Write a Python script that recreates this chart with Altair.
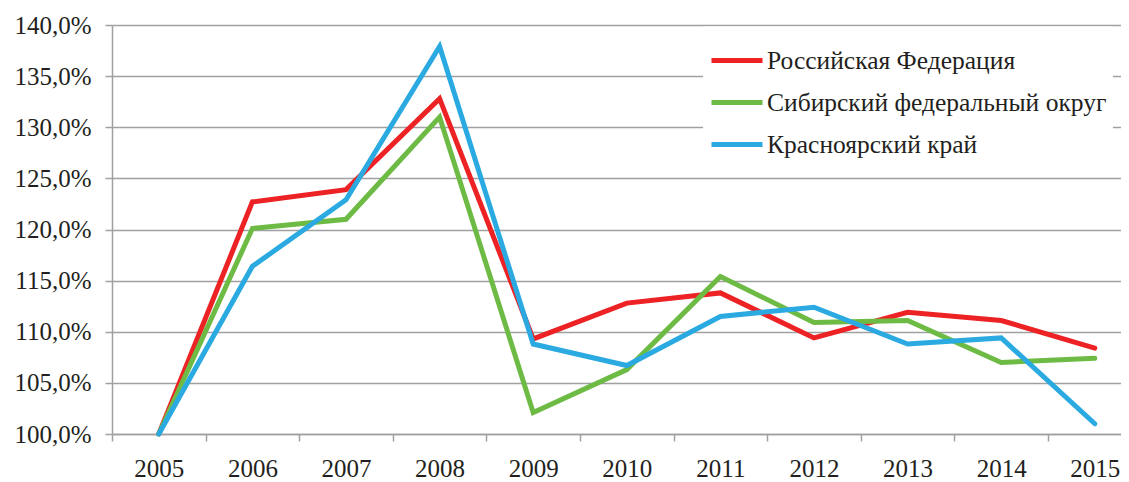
import altair as alt
import pandas as pd

years = list(range(2005, 2016))
series_names = ["Российская Федерация", "Сибирский федеральный округ", "Красноярский край"]
rf = [100.0, 122.7, 123.9, 132.8, 109.3, 112.8, 113.8, 109.4, 111.9, 111.1, 108.4]
sfo = [100.0, 120.1, 121.0, 131.0, 102.1, 106.3, 115.4, 110.9, 111.1, 107.0, 107.4]
kk = [100.0, 116.4, 122.9, 137.9, 108.8, 106.7, 111.5, 112.4, 108.8, 109.4, 101.0]
colors = ["#ED2224", "#6DBB45", "#2AAAE1"]
y_ticks = list(range(100, 141, 5))

rows = []
for name, vals in zip(series_names, [rf, sfo, kk]):
    for yr, v in zip(years, vals):
        rows.append({"year": yr, "value": v, "series": name})
df = pd.DataFrame(rows)

W = 1009
band = 93.6
TXT = "#231F20"
GRID = "#A0A0A0"
FONT = "Liberation Serif"

x_enc = alt.X(
    "year:Q",
    scale=alt.Scale(domain=[2004.5, 2004.5 + W / band], nice=False, zero=False),
    axis=alt.Axis(
        values=years, format="d", tickOffset=-band / 2, labelOffset=band / 2,
        grid=False, tickSize=7, labelPadding=15, title=None,
        labelFont=FONT, labelFontSize=25, labelColor=TXT,
        domainColor=GRID, domainWidth=1.5, tickColor=GRID, tickWidth=1.5,
    ),
)
y_enc = alt.Y(
    "value:Q",
    scale=alt.Scale(domain=[100, 140], nice=False, zero=False),
    axis=alt.Axis(
        values=y_ticks, labelExpr="replace(format(datum.value, '.1f'), '.', ',') + '%'",
        tickSize=7, labelPadding=14, title=None, grid=True,
        gridColor=GRID, gridWidth=1.5, domainColor=GRID, domainWidth=1.5,
        tickColor=GRID, tickWidth=1.5,
        labelFont=FONT, labelFontSize=25, labelColor=TXT,
    ),
)
color_enc = alt.Color(
    "series:N",
    scale=alt.Scale(domain=series_names, range=colors),
    legend=alt.Legend(
        orient="none", legendX=591, legendY=1.5, title=None,
        symbolType="stroke", symbolSize=2601, symbolStrokeWidth=5,
        labelFont=FONT, labelFontSize=25.5, labelColor=TXT,
        labelOffset=2, rowPadding=-8, padding=6, fillColor="white",
        labelLimit=0,
    ),
)

layers = []
for name in series_names:
    layers.append(
        alt.Chart(df)
        .transform_filter(alt.datum.series == name)
        .mark_line(strokeWidth=5, strokeJoin="miter", strokeCap="round")
        .encode(x=x_enc, y=y_enc, color=color_enc)
    )

chart = (
    alt.layer(*layers)
    .properties(width=W, height=409, padding={"left": 5, "top": 5, "right": 0, "bottom": 0})
    .configure(font=FONT)
    .configure_view(stroke=None)
)

chart.save("out.html", embed_options={"renderer": "svg", "actions": False})
